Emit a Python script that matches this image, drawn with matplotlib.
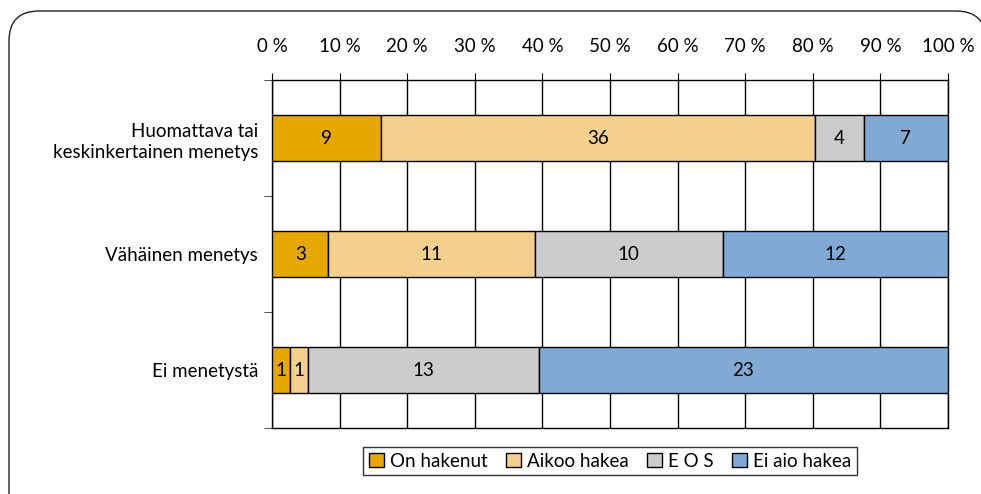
import matplotlib
matplotlib.use("Agg")
import matplotlib.pyplot as plt
from matplotlib.patches import FancyBboxPatch
import numpy as np

# data (counts per group)
categories = ["Huomattava tai\nkeskinkertainen menetys", "Vähäinen menetys", "Ei menetystä"]
series = ["On hakenut", "Aikoo hakea", "E O S", "Ei aio hakea"]
on_hakenut = [9, 3, 1]
aikoo_hakea = [36, 11, 1]
eos = [4, 10, 13]
ei_aio_hakea = [7, 12, 23]
x_ticks = [0, 10, 20, 30, 40, 50, 60, 70, 80, 90, 100]
colors = ["#E6A700", "#F4D08D", "#CCCCCC", "#80AAD4"]

plt.rcParams['font.family'] = ['Lato', 'DejaVu Sans']
FS = 13.5

W, H = 981, 494
fig = plt.figure(figsize=(W / 100, H / 100), dpi=100)

# rounded frame around the whole chart, drawn in pixel coordinates
bg = fig.add_axes([0, 0, 1, 1])
bg.set_xlim(0, W)
bg.set_ylim(H, 0)
bg.axis('off')
bg.add_patch(FancyBboxPatch((9, 11), 977, 520,
                            boxstyle="round,pad=0,rounding_size=30",
                            facecolor='white', edgecolor='#222222',
                            linewidth=1.0, clip_on=False))

left, right, top, bottom = 272, 948, 80, 428
ax = fig.add_axes([left / W, 1 - bottom / H, (right - left) / W, (bottom - top) / H])
ax.set_zorder(2)

counts = np.array([on_hakenut, aikoo_hakea, eos, ei_aio_hakea], dtype=float)
totals = counts.sum(axis=0)
pct = counts / totals * 100
y = np.arange(len(categories))
start = np.zeros(len(categories))
for i, name in enumerate(series):
    ax.barh(y, pct[i], left=start, height=0.39, color=colors[i],
            edgecolor='black', linewidth=1.0, label=name, zorder=3)
    for j in range(len(categories)):
        ax.text(start[j] + pct[i][j] / 2, y[j], "%d" % counts[i][j],
                ha='center', va='center', fontsize=FS, zorder=4)
    start += pct[i]

ax.set_xlim(0, 100)
ax.set_ylim(len(categories) - 0.5, -0.5)
ax.set_xticks(x_ticks)
ax.set_xticklabels(["%d %%" % t for t in x_ticks], fontsize=FS)
ax.xaxis.tick_top()
ax.tick_params(axis='x', length=5, direction='out', pad=13, color='black')
ax.set_yticks(y)
ax.set_yticklabels(categories, fontsize=FS, ha='right', linespacing=1.35)
ax.tick_params(axis='y', which='major', length=0, pad=10)
ax.set_yticks(np.arange(len(categories) + 1) - 0.5, minor=True)
ax.tick_params(axis='y', which='minor', length=6, direction='out', color='#333333')
ax.grid(axis='x', color='black', linewidth=1.0, zorder=0)
ax.set_axisbelow(True)
for s in ax.spines.values():
    s.set_color('black')
    s.set_linewidth(1.0)

leg = fig.legend(loc='center', bbox_to_anchor=(610 / W, 1 - 461 / H), ncol=4,
                 fontsize=FS, frameon=True, fancybox=False, edgecolor='black',
                 handlelength=0.8, handleheight=0.8, handletextpad=0.3,
                 columnspacing=1.0, borderpad=0.3)
leg.get_frame().set_linewidth(1.0)

fig.savefig("out.png", dpi=100)
